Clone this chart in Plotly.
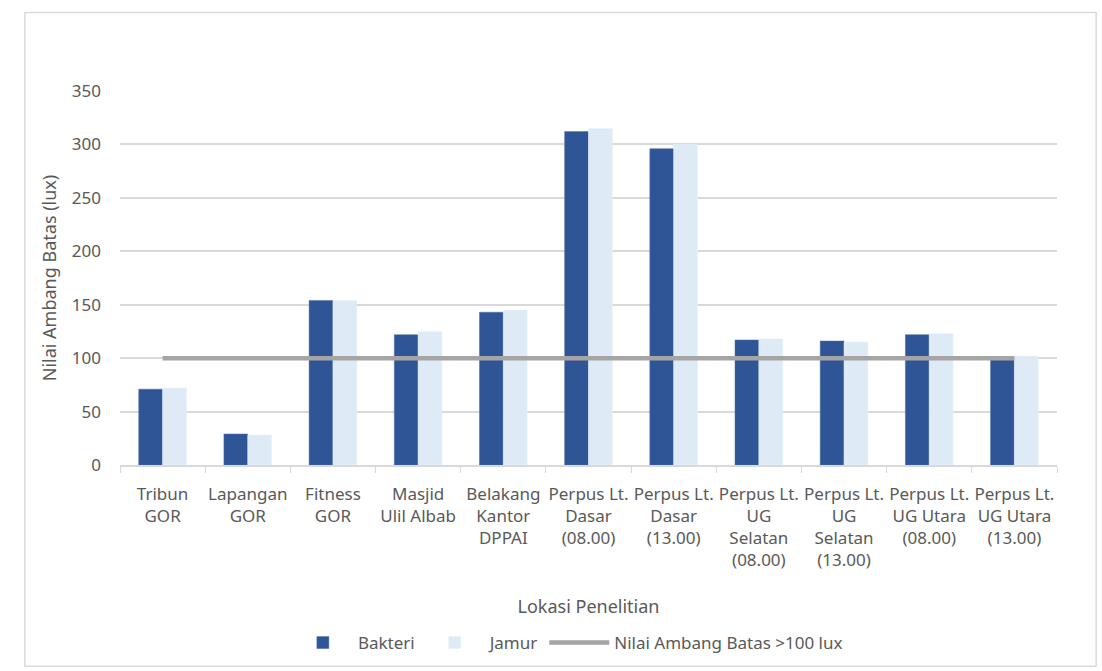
import plotly.graph_objects as go

categories = [
    "Tribun<br>GOR", "Lapangan<br>GOR", "Fitness<br>GOR", "Masjid<br>Ulil Albab",
    "Belakang<br>Kantor<br>DPPAI", "Perpus Lt.<br>Dasar<br>(08.00)", "Perpus Lt.<br>Dasar<br>(13.00)",
    "Perpus Lt.<br>UG<br>Selatan<br>(08.00)", "Perpus Lt.<br>UG<br>Selatan<br>(13.00)",
    "Perpus Lt.<br>UG Utara<br>(08.00)", "Perpus Lt.<br>UG Utara<br>(13.00)",
]
bakteri = [71, 29, 154, 122, 143, 312, 296, 117, 116, 122, 100]
jamur = [72, 28, 154, 125, 145, 315, 300, 118, 115, 123, 102]
ambang = [100] * 11
y_ticks = [0, 50, 100, 150, 200, 250, 300, 350]

FONT = "Noto Sans"
TXT = "#595959"

fig = go.Figure()
fig.add_trace(go.Bar(x=categories, y=bakteri, name="Bakteri",
                     marker=dict(color="#2F5597", line=dict(color="#4A6EAD", width=0.5))))
fig.add_trace(go.Bar(x=categories, y=jamur, name="Jamur",
                     marker=dict(color="#DEEBF7", line=dict(color="#E8F0FA", width=0.5))))
fig.add_trace(go.Scatter(x=categories, y=ambang, name="Nilai Ambang Batas >100 lux",
                         mode="lines", line=dict(color="#A5A5A5", width=4.5)))

fig.update_layout(
    width=1102, height=671,
    margin=dict(l=120, r=45, t=91, b=205),
    paper_bgcolor="white", plot_bgcolor="white",
    font=dict(family=FONT, size=17, color=TXT),
    barmode="group", bargap=0.44, bargroupgap=0,
    showlegend=True,
    legend=dict(orientation="h", x=0.478, xanchor="center", y=-0.472, yanchor="middle",
                font=dict(family=FONT, size=17, color=TXT), itemwidth=60,
                traceorder="normal"),
    shapes=[dict(type="rect", xref="paper", yref="paper",
                 x0=-0.1015, x1=1.0418, y0=-0.538, y1=1.21,
                 line=dict(color="#D9D9D9", width=1.5), fillcolor="rgba(0,0,0,0)", layer="below")],
)
fig.update_xaxes(
    title=dict(text="Lokasi Penelitian", font=dict(family=FONT, size=18, color=TXT), standoff=30),
    tickson="boundaries", ticks="outside", ticklen=6, tickcolor="#D9D9D9",
    showline=True, linecolor="#D9D9D9", linewidth=1.5,
    tickfont=dict(family=FONT, size=17, color=TXT), tickangle=0,
    ticklabelstandoff=13,
)
fig.update_yaxes(
    title=dict(text="Nilai Ambang Batas (lux)", font=dict(family=FONT, size=18, color=TXT), standoff=10),
    range=[0, 350], tickvals=y_ticks, showgrid=True, gridcolor="#D9D9D9", gridwidth=1.5,
    zeroline=False, showline=False, ticks="",
    tickfont=dict(family=FONT, size=17, color=TXT), ticklabelstandoff=18,
)

fig.write_html("out.html")
